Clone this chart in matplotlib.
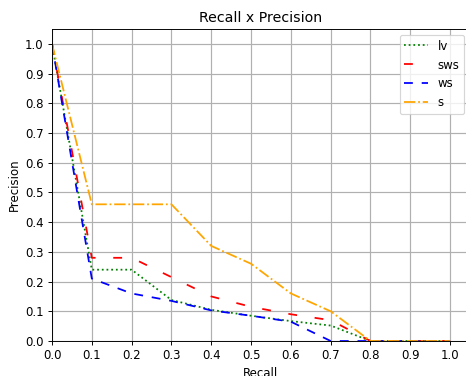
import matplotlib
matplotlib.use("Agg")
import matplotlib.pyplot as plt

recall = [0.0, 0.1, 0.2, 0.3, 0.4, 0.5, 0.6, 0.7, 0.8, 0.9, 1.0]
lv = [1.0, 0.24, 0.24, 0.138, 0.105, 0.085, 0.067, 0.052, 0.0, 0.0, 0.0]
sws = [1.0, 0.28, 0.28, 0.215, 0.15, 0.115, 0.09, 0.07, 0.0, 0.0, 0.0]
ws = [1.0, 0.21, 0.16, 0.135, 0.103, 0.085, 0.065, 0.0, 0.0, 0.0, 0.0]
s = [1.0, 0.46, 0.46, 0.46, 0.32, 0.26, 0.16, 0.10, 0.0, 0.0, 0.0]

ticks = [0.0, 0.1, 0.2, 0.3, 0.4, 0.5, 0.6, 0.7, 0.8, 0.9, 1.0]

DPI = 85
fig = plt.figure(figsize=(466 / DPI, 376 / DPI), dpi=DPI)
ax = fig.add_axes([52/466, 35/376, 418/466, 312/376])

ax.plot(recall, lv, color="green", linestyle=":", lw=1.5, label="lv")
ax.plot(recall, sws, color="red", linestyle=(0, (5, 10)), lw=1.5, label="sws")
ax.plot(recall, ws, color="blue", linestyle=(0, (5, 5)), lw=1.5, label="ws")
ax.plot(recall, s, color="orange", linestyle="-.", lw=1.5, label="s")

ax.set_xlim(0, 1.05)
ax.set_ylim(0, 1.05)
ax.set_xticks(ticks)
ax.set_yticks(ticks)
ax.grid(True, color="#b0b0b0", lw=1.0)
ax.set_title("Recall x Precision")
ax.set_xlabel("Recall")
ax.set_ylabel("Precision")
ax.legend(loc="upper right")

fig.savefig("out.png", dpi=DPI)
